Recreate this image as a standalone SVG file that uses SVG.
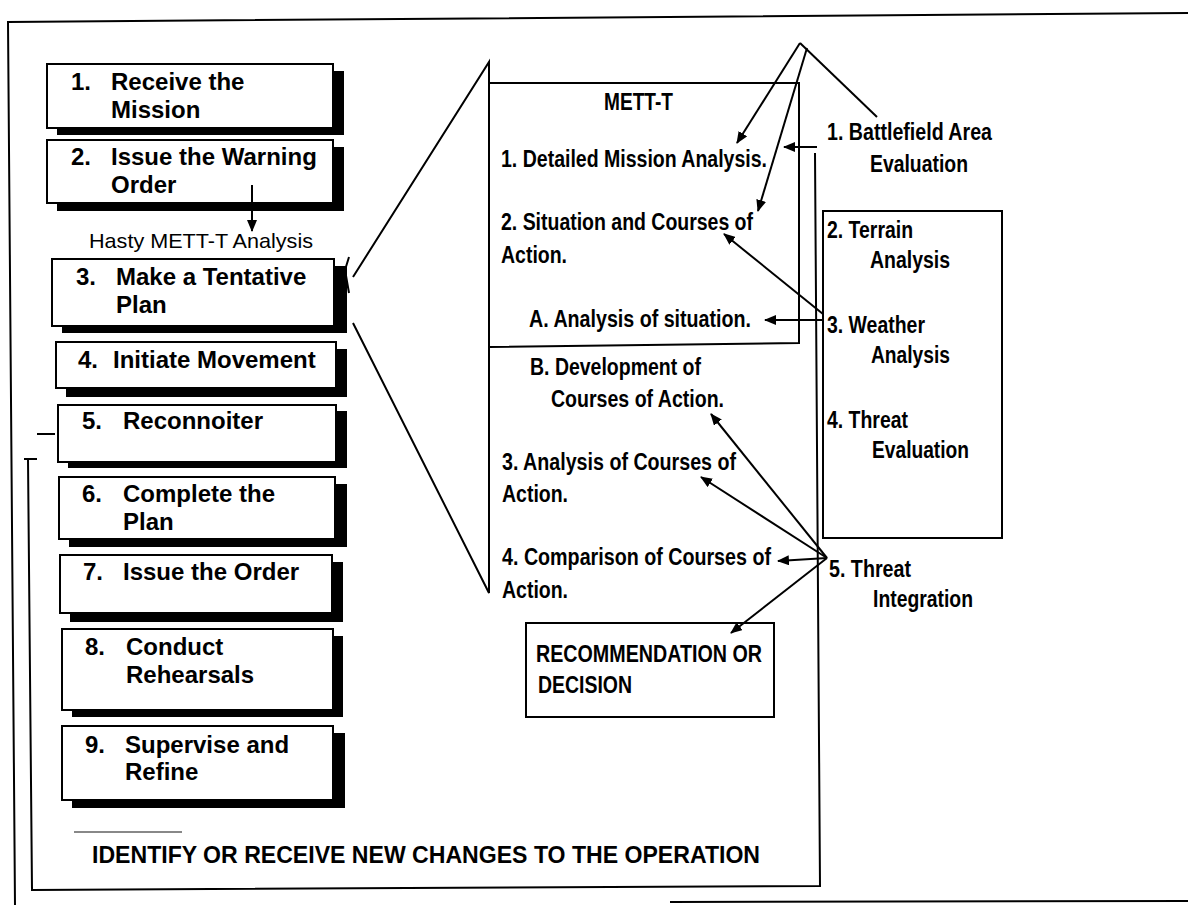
<svg xmlns="http://www.w3.org/2000/svg" width="1188" height="905" viewBox="0 0 1188 905">
<style>
.frame{fill:none;stroke:#000;stroke-width:2}
.box{fill:#fff;stroke:#000;stroke-width:2}
.sh{fill:#000}
.lt{font-family:"Liberation Sans",Arial,sans-serif;font-weight:bold;font-size:24px;fill:#000}
.n{font-family:"Liberation Sans Narrow","Liberation Sans",Arial,sans-serif;font-weight:bold;font-size:23px;fill:#000}
.h{font-family:"Liberation Sans",Arial,sans-serif;font-size:21px;fill:#000}
.c{fill:none;stroke:#000;stroke-width:2}
</style>
<defs>
<marker id="ah" viewBox="0 0 12 10" refX="11" refY="5" markerWidth="12" markerHeight="10" markerUnits="userSpaceOnUse" orient="auto">
<path d="M0,0 L12,5 L0,10 z" fill="#000"/>
</marker>
</defs>
<rect width="1188" height="905" fill="#fff"/>

<g id="frames">
<path class="frame" d="M1188,13 L8,22 L15,905"/>
<path class="frame" d="M670,902 L1188,901"/>
<path class="frame" d="M815,153 L820,886 L32,890 L28,459"/>
<path class="frame" d="M24,459 L37,459"/>
<path class="frame" d="M37,434 L55,434"/>
<path d="M74,832 L182,832" stroke="#888" stroke-width="2"/>
<path class="frame" d="M489,83 L799,83 L799,343 L489,347"/>
<path class="frame" d="M353,277 L489,62 L489,593 L353,323"/>
<path class="frame" d="M349,257 L345,270 L349,293" stroke-width="1.5"/>
<rect class="frame" x="823" y="211" width="179" height="327"/>
</g>

<g id="step1"><rect class="sh" x="57" y="71" width="287" height="64"/><rect class="box" x="47" y="64" width="286" height="64"/>
<text class="lt" x="71" y="90">1.</text><text class="lt" x="111" y="90">Receive the</text><text class="lt" x="111" y="118">Mission</text></g>
<g id="step2"><rect class="sh" x="57" y="147" width="287" height="64"/><rect class="box" x="47" y="140" width="286" height="63"/>
<text class="lt" x="71" y="165">2.</text><text class="lt" x="111" y="165">Issue the Warning</text><text class="lt" x="111" y="193">Order</text></g>
<g id="step3"><rect class="sh" x="62" y="266" width="285" height="67"/><rect class="box" x="52" y="259" width="282" height="67"/>
<text class="lt" x="76" y="285">3.</text><text class="lt" x="116" y="285">Make a Tentative</text><text class="lt" x="116" y="313">Plan</text></g>
<g id="step4"><rect class="sh" x="66" y="349" width="281" height="48"/><rect class="box" x="56" y="342" width="280" height="46"/>
<text class="lt" x="78" y="368">4.</text><text class="lt" x="113" y="368">Initiate Movement</text></g>
<g id="step5"><rect class="sh" x="68" y="411" width="279" height="57"/><rect class="box" x="58" y="405" width="278" height="57"/>
<text class="lt" x="82" y="429">5.</text><text class="lt" x="123" y="429">Reconnoiter</text></g>
<g id="step6"><rect class="sh" x="69" y="484" width="278" height="63"/><rect class="box" x="59" y="477" width="276" height="62"/>
<text class="lt" x="82" y="502">6.</text><text class="lt" x="123" y="502">Complete the</text><text class="lt" x="123" y="530">Plan</text></g>
<g id="step7"><rect class="sh" x="70" y="562" width="273" height="60"/><rect class="box" x="60" y="555" width="272" height="58"/>
<text class="lt" x="83" y="580">7.</text><text class="lt" x="123" y="580">Issue the Order</text></g>
<g id="step8"><rect class="sh" x="72" y="636" width="271" height="81"/><rect class="box" x="62" y="629" width="271" height="81"/>
<text class="lt" x="85" y="655">8.</text><text class="lt" x="126" y="655">Conduct</text><text class="lt" x="126" y="683">Rehearsals</text></g>
<g id="step9"><rect class="sh" x="72" y="733" width="273" height="75"/><rect class="box" x="62" y="726" width="271" height="74"/>
<text class="lt" x="85" y="753">9.</text><text class="lt" x="125" y="753">Supervise and</text><text class="lt" x="125" y="780">Refine</text></g>

<g id="hasty"><text class="h" x="89" y="248" textLength="224" lengthAdjust="spacingAndGlyphs">Hasty METT-T Analysis</text></g>

<g id="mett">
<text class="n" x="604" y="110" font-size="22" textLength="69" lengthAdjust="spacingAndGlyphs">METT-T</text>
<text class="n" x="501" y="167" textLength="266" lengthAdjust="spacingAndGlyphs">1. Detailed Mission Analysis.</text>
<text class="n" x="501" y="230" textLength="252" lengthAdjust="spacingAndGlyphs">2. Situation and Courses of</text>
<text class="n" x="501" y="263" textLength="66" lengthAdjust="spacingAndGlyphs">Action.</text>
<text class="n" x="529" y="327" textLength="222" lengthAdjust="spacingAndGlyphs">A. Analysis of situation.</text>
</g>
<g id="steps-b">
<text class="n" x="530" y="375" textLength="171" lengthAdjust="spacingAndGlyphs">B. Development of</text>
<text class="n" x="551" y="407" textLength="173" lengthAdjust="spacingAndGlyphs">Courses of Action.</text>
<text class="n" x="502" y="470" textLength="234" lengthAdjust="spacingAndGlyphs">3. Analysis of Courses of</text>
<text class="n" x="502" y="502" textLength="66" lengthAdjust="spacingAndGlyphs">Action.</text>
<text class="n" x="502" y="565" textLength="269" lengthAdjust="spacingAndGlyphs">4. Comparison of Courses of</text>
<text class="n" x="502" y="598" textLength="66" lengthAdjust="spacingAndGlyphs">Action.</text>
</g>
<g id="decision"><rect class="box" x="526" y="623" width="248" height="94"/>
<text class="n" x="536" y="662" textLength="226" lengthAdjust="spacingAndGlyphs">RECOMMENDATION OR</text>
<text class="n" x="538" y="693" textLength="94" lengthAdjust="spacingAndGlyphs">DECISION</text></g>

<g id="ipb">
<text class="n" x="827" y="140" textLength="165" lengthAdjust="spacingAndGlyphs">1. Battlefield Area</text>
<text class="n" x="870" y="172" textLength="98" lengthAdjust="spacingAndGlyphs">Evaluation</text>
<text class="n" x="827" y="238" textLength="86" lengthAdjust="spacingAndGlyphs">2. Terrain</text>
<text class="n" x="870" y="268" textLength="80" lengthAdjust="spacingAndGlyphs">Analysis</text>
<text class="n" x="827" y="333" textLength="98" lengthAdjust="spacingAndGlyphs">3. Weather</text>
<text class="n" x="871" y="363" textLength="79" lengthAdjust="spacingAndGlyphs">Analysis</text>
<text class="n" x="827" y="428" textLength="81" lengthAdjust="spacingAndGlyphs">4. Threat</text>
<text class="n" x="872" y="458" textLength="97" lengthAdjust="spacingAndGlyphs">Evaluation</text>
<text class="n" x="829" y="577" textLength="82" lengthAdjust="spacingAndGlyphs">5. Threat</text>
<text class="n" x="873" y="607" textLength="100" lengthAdjust="spacingAndGlyphs">Integration</text>
</g>

<g id="changes"><text class="lt" x="92" y="863" font-size="25" textLength="668" lengthAdjust="spacingAndGlyphs">IDENTIFY OR RECEIVE NEW CHANGES TO THE OPERATION</text></g>

<g id="connectors">
<path class="c" d="M252,185 L252,231" marker-end="url(#ah)"/>
<path class="c" d="M800,43 L737,143" marker-end="url(#ah)"/>
<path class="c" d="M807,48 L758,211" marker-end="url(#ah)"/>
<path class="c" d="M800,43 L877,117"/>
<path class="c" d="M817,147 L784,147" marker-end="url(#ah)"/>
<path class="c" d="M823,314 L724,234" marker-end="url(#ah)"/>
<path class="c" d="M823,320 L765,320" marker-end="url(#ah)"/>
<path class="c" d="M827,558 L711,414" marker-end="url(#ah)"/>
<path class="c" d="M827,558 L701,477" marker-end="url(#ah)"/>
<path class="c" d="M827,558 L778,561" marker-end="url(#ah)"/>
<path class="c" d="M827,558 L731,633" marker-end="url(#ah)"/>
</g>
</svg>
